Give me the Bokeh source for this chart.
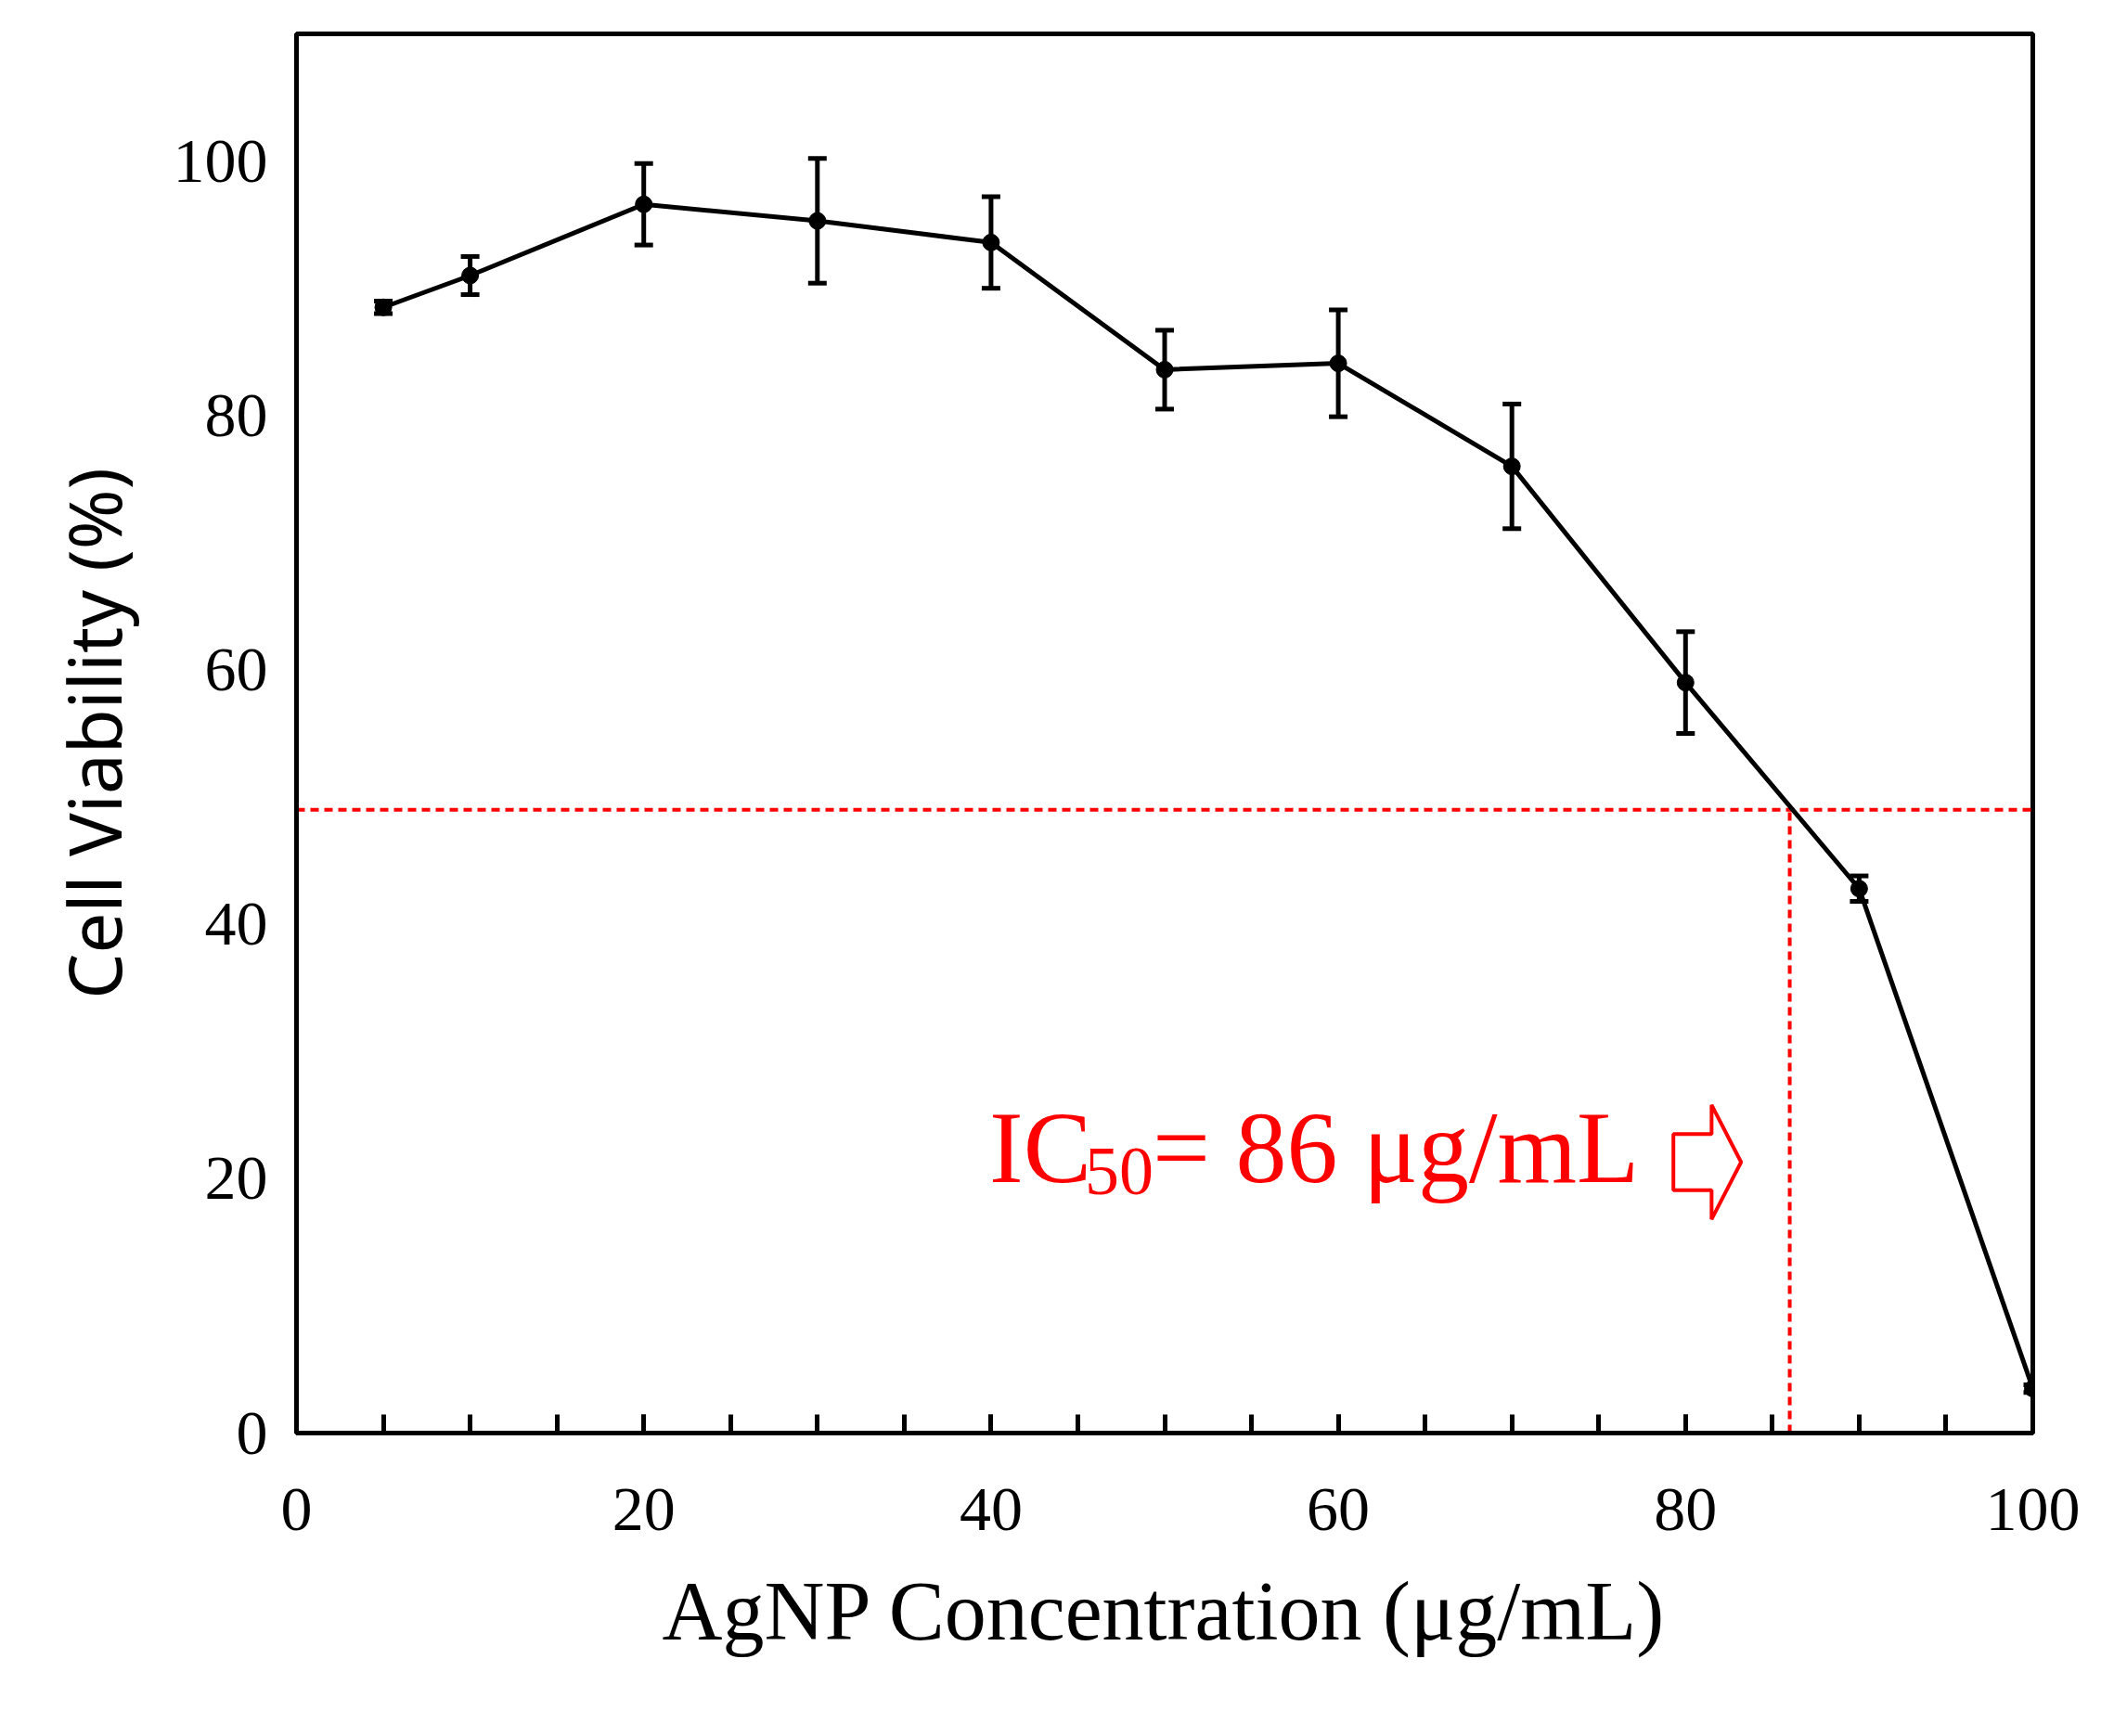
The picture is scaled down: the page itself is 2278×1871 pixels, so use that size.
from bokeh.plotting import figure
from bokeh.models import ColumnDataSource, Whisker, TeeHead, FixedTicker
from bokeh.core.properties import value
from bokeh.embed import file_html
from bokeh.resources import INLINE

conc = [5, 10, 20, 30, 40, 50, 60, 70, 80, 90, 100]
viab = [88.5, 91.0, 96.6, 95.3, 93.6, 83.6, 84.1, 76.0, 59.0, 42.8, 3.5]
err = [0.5, 1.5, 3.2, 4.9, 3.6, 3.1, 4.2, 4.9, 4.0, 1.0, 0.3]
ic50_x = 86
ic50_y = 49
x_ticks = [0, 20, 40, 60, 80, 100]
y_ticks = [0, 20, 40, 60, 80, 100]

src = ColumnDataSource(dict(x=conc, y=viab,
                            lo=[v - e for v, e in zip(viab, err)],
                            hi=[v + e for v, e in zip(viab, err)]))

p = figure(width=2262, height=1855, x_range=(0, 100), y_range=(0, 110),
           output_backend="svg", toolbar_location=None,
           min_border_left=319, min_border_right=72, min_border_top=36, min_border_bottom=311)
p.grid.visible = False
p.outline_line_color = "black"
p.outline_line_width = 5
p.background_fill_color = "white"

serif = "Liberation Serif"
p.xaxis.ticker = FixedTicker(ticks=x_ticks, minor_ticks=list(range(0, 101, 5)))
p.yaxis.ticker = FixedTicker(ticks=y_ticks)
for ax in (p.xaxis[0], p.yaxis[0]):
    ax.axis_line_width = 5
    ax.axis_line_color = "black"
    ax.major_label_text_font = serif
    ax.major_label_text_font_size = "68px"
    ax.major_label_text_color = "black"
    ax.axis_label_text_color = "black"
p.xaxis.major_tick_in = 20
p.xaxis.major_tick_out = 0
p.xaxis.minor_tick_in = 20
p.xaxis.minor_tick_out = 0
p.xaxis.major_tick_line_width = 5
p.xaxis.minor_tick_line_width = 5
p.xaxis.major_label_standoff = 60
p.yaxis.major_tick_line_color = None
p.yaxis.minor_tick_line_color = None
p.yaxis.major_label_standoff = 25
p.xaxis.axis_label = "AgNP Concentration (μg/mL)"
p.xaxis.axis_label_text_font = serif
p.xaxis.axis_label_text_font_style = "normal"
p.xaxis.axis_label_text_font_size = "90px"
p.xaxis.axis_label_standoff = 35
p.yaxis.axis_label = "Cell Viability (%)"
p.yaxis.axis_label_text_font = "Noto Sans"
p.yaxis.axis_label_text_font_style = "normal"
p.yaxis.axis_label_text_font_size = "78px"
p.yaxis.axis_label_standoff = 30

p.line([0, 100], [ic50_y, ic50_y], line_color="red", line_dash="9 6", line_width=4)
p.line([ic50_x, ic50_x], [0, ic50_y], line_color="red", line_dash="9 6", line_width=4)

p.add_layout(Whisker(source=src, base="x", lower="lo", upper="hi", line_width=5,
                     lower_head=TeeHead(size=20, line_width=5),
                     upper_head=TeeHead(size=20, line_width=5)))
p.line("x", "y", source=src, line_color="black", line_width=5)
p.scatter("x", "y", source=src, size=18, color="black")

p.text([39.9], [22.4], text=["IC"], text_color="red", text_font=value(serif),
       text_font_size="110px", text_baseline="alphabetic")
p.text([45.4], [20.6], text=["50"], text_color="red", text_font=value(serif),
       text_font_size="74px", text_baseline="alphabetic")
p.text([49.3], [22.4], text=["= 86 μg/mL"], text_color="red", text_font=value(serif),
       text_font_size="110px", text_baseline="alphabetic")
ax_ = [79.3, 81.5, 81.5, 83.2, 81.5, 81.5, 79.3]
ay_ = [23.5, 23.5, 25.8, 21.3, 16.8, 19.1, 19.1]
p.patch(ax_, ay_, fill_color="white", line_color="red", line_width=4)

open("out.html", "w").write(file_html(p, INLINE))
